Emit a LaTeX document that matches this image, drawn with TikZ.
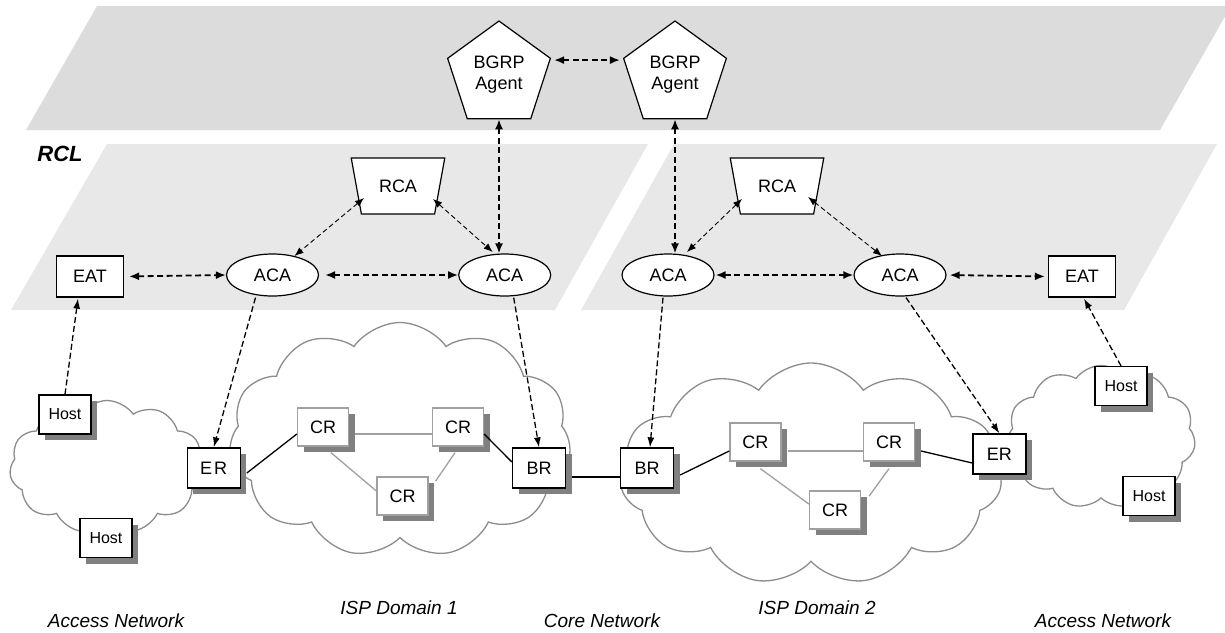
\documentclass[tikz,border=0pt]{standalone}
\usepackage{fontspec}
\setmainfont{Liberation Sans}
\usetikzlibrary{shapes.geometric,shapes.symbols,shadows,arrows.meta,calc}
\definecolor{topgray}{HTML}{DCDCDC}
\definecolor{rclgray}{HTML}{E8E8E8}
\definecolor{shgray}{HTML}{808080}
\definecolor{crgray}{HTML}{A0A0A0}
\definecolor{cloudgray}{HTML}{8C8C8C}
\begin{document}
\begin{tikzpicture}[x=1pt,y=-1pt,font=\fontsize{18}{21}\selectfont,
  aca/.style={ellipse, draw, line width=1.2pt, fill=white, minimum width=92pt, minimum height=42pt, inner sep=0pt},
  eat/.style={rectangle, draw, line width=1.2pt, fill=white, minimum width=67pt, minimum height=41pt, inner sep=0pt},
  agent/.style={regular polygon, regular polygon sides=5, draw, line width=1.2pt, fill=white, minimum size=108pt, inner sep=0pt, align=center},
  rca/.style={trapezium, trapezium stretches=true, trapezium left angle=67.5, trapezium right angle=67.5, shape border rotate=180, draw, line width=1.2pt, fill=white, minimum width=94pt, minimum height=56pt, inner sep=0pt},
  router/.style={rectangle, draw, line width=1.3pt, fill=white, minimum width=53pt, minimum height=40pt, inner sep=0pt, drop shadow={shadow xshift=6pt, shadow yshift=-6pt, fill=shgray, opacity=1}},
  core/.style={router, draw=crgray, minimum width=51pt, minimum height=38pt},
  host/.style={router, minimum width=52pt, minimum height=39pt, font=\fontsize{16}{18}\selectfont},
  cloudnode/.style={cloud, cloud puffs=11, cloud puff arc=110, draw=cloudgray, line width=1.3pt, fill=white, inner sep=0pt},
  bigarrow/.style={line width=1.8pt, dash pattern=on 6pt off 3.5pt, {Latex[length=10pt,width=8pt]}-{Latex[length=10pt,width=8pt]}},
  thinarrow/.style={line width=0.9pt, dash pattern=on 5pt off 3pt, {Latex[length=9pt,width=7pt]}-{Latex[length=9pt,width=7pt]}},
  downarrow/.style={line width=1.3pt, dash pattern=on 6pt off 3pt, -{Latex[length=10pt,width=7pt]}},
  blink/.style={line width=1.3pt},
  glink/.style={line width=1.3pt, draw=crgray},
  lbl/.style={font=\fontsize{19}{21}\selectfont\itshape}]
\useasboundingbox (0,0) rectangle (1225,632);
% layers
\fill[topgray] (26,130) -- (97,6) -- (1231,6) -- (1160,130) -- cycle;
\fill[rclgray] (11,310) -- (107,144) -- (648,144) -- (555,310) -- cycle;
\fill[rclgray] (581,310) -- (674,144) -- (1217,144) -- (1124,310) -- cycle;
\node[font=\fontsize{22}{24}\selectfont\bfseries\itshape] (rcl) at (60,154) {RCL};
% clouds
\node[cloudnode, minimum width=195pt, minimum height=133pt] (accL) at (107,467) {};
\node[cloudnode, minimum width=189pt, minimum height=143pt] (accR) at (1101,437) {};
\node[cloudnode, minimum width=342pt, minimum height=235pt] (isp1) at (400,440) {};
\node[cloudnode, minimum width=382pt, minimum height=222pt] (isp2) at (811,474) {};
% routers and hosts
\node[host] (HL1) at (65,414.5) {Host};
\node[host] (HL2) at (106,538) {Host};
\node[router] (ERL) at (213.7,468) {E\kern2pt R};
\node[core] (CR1) at (323,427) {CR};
\node[core] (CR2) at (458,427) {CR};
\node[core] (CR3) at (402.5,496) {CR};
\node[router] (BRL) at (539,468) {BR};
\node[router] (BRR) at (647,468) {BR};
\node[core] (CR4) at (755.4,442) {CR};
\node[core] (CR5) at (889,442) {CR};
\node[core] (CR6) at (835,510) {CR};
\node[router] (ERR) at (999.4,454) {ER};
\node[host] (HR1) at (1121,386) {Host};
\node[host] (HR2) at (1149,496) {Host};
% links
\draw[blink] ($(ERL.east)+(6,5)$) -- ($(CR1.west)+(0,7)$);
\draw[glink] ($(CR1.east)+(6,7)$) -- ($(CR2.west)+(0,7)$);
\draw[glink] ($(CR1.south)+(8,6)$) -- ($(CR3.west)+(0,-5)$);
\draw[glink] ($(CR2.south)+(-3,6)$) -- ($(CR3.east)+(7,-15)$);
\draw[blink] ($(CR2.east)+(0,7)$) -- ($(BRL.west)+(0,-6)$);
\draw[blink] ($(BRL.east)+(6,9)$) -- ($(BRR.west)+(0,9)$);
\draw[blink] ($(BRR.east)+(6,7)$) -- ($(CR4.west)+(0,9)$);
\draw[glink] ($(CR4.east)+(6,9)$) -- ($(CR5.west)+(0,9)$);
\draw[glink] ($(CR4.south)+(5,7)$) -- ($(CR6.west)+(0,-6)$);
\draw[glink] ($(CR5.south)+(0,7)$) -- ($(CR6.east)+(8,-14)$);
\draw[blink] ($(CR5.east)+(6,9)$) -- ($(ERR.west)+(0,9)$);
% RCL nodes
\node[eat] (EATL) at (90,276.5) {EAT};
\node[aca] (ACA1) at (272.5,275) {ACA};
\node[aca] (ACA2) at (504.7,275) {ACA};
\node[aca] (ACA3) at (668,275) {ACA};
\node[aca] (ACA4) at (900,275) {ACA};
\node[eat] (EATR) at (1082,276.5) {EAT};
\node[rca] (RCA1) at (398,186) {RCA};
\node[rca] (RCA2) at (777,186) {RCA};
% BGRP agents
\node[agent] (AGL) at (499,75) {BGRP\\Agent};
\node[agent] (AGR) at (675,75) {BGRP\\Agent};
% signalling arrows
\draw[bigarrow] ($(AGL.corner 5)+(3,2)$) -- ($(AGR.corner 2)+(-3,2)$);
\draw[bigarrow] (AGL.south) -- (AGL.south |- ACA2.north);
\draw[bigarrow] (AGR.south) -- (AGR.south |- ACA3.north);
\draw[bigarrow, shorten <=5pt] (EATL.east) -- (ACA1.west);
\draw[bigarrow, shorten <=6pt] (ACA1.east) -- (ACA2.west);
\draw[bigarrow, shorten <=1pt] (ACA3.east) -- (ACA4.west);
\draw[bigarrow, shorten <=3pt, shorten >=3pt] (ACA4.east) -- (EATR.west);
\draw[thinarrow] ($(RCA1.center)+(-34,12)$) -- ($(ACA1.center)+(22,-19)$);
\draw[thinarrow] ($(RCA1.center)+(35,13)$) -- ($(ACA2.center)+(-12,-23)$);
\draw[thinarrow] ($(RCA2.center)+(-35,13)$) -- ($(ACA3.center)+(19,-23)$);
\draw[thinarrow] ($(RCA2.center)+(31,11)$) -- ($(ACA4.center)+(-18,-19)$);
\draw[downarrow] (HL1.north) -- ($(EATL.south)+(-12,1)$);
\draw[downarrow] ($(ACA1.south)+(-17,1)$) -- (ERL.north);
\draw[downarrow] ($(ACA2.south)+(9,1)$) -- (BRL.north);
\draw[downarrow] ($(ACA3.south)+(-5,1)$) -- ($(BRR.north)+(3,0)$);
\draw[downarrow] ($(ACA4.south)+(6,1)$) -- (ERR.north);
\draw[downarrow] (HR1.north) -- ($(EATR.south)+(2,1)$);
% labels
\node[lbl] (l1) at (116,621) {Access Network};
\node[lbl] (l2) at (399,608) {ISP Domain 1};
\node[lbl] (l3) at (602,621) {Core Network};
\node[lbl] (l4) at (817,608) {ISP Domain 2};
\node[lbl] (l5) at (1103,621) {Access Network};
\end{tikzpicture}
\end{document}
